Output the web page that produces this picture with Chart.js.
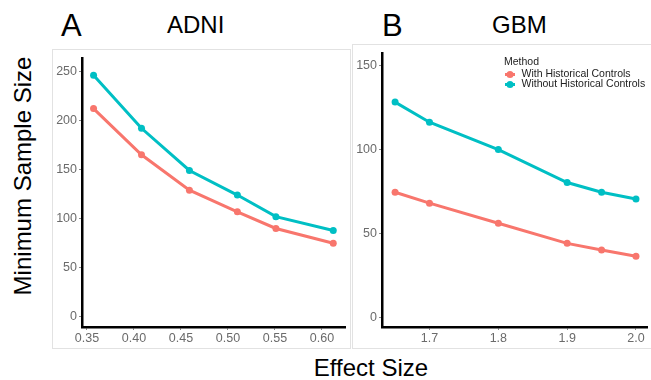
<!DOCTYPE html>
<html>
<head>
<meta charset="utf-8">
<script src="https://cdn.jsdelivr.net/npm/chart.js@4.4.1/dist/chart.umd.min.js"></script>
<style>
  body { margin: 0; background: #fff; font-family: "Liberation Sans", Arial, sans-serif; }
  #page { position: relative; width: 651px; height: 380px; overflow: hidden; }
  .txt { position: absolute; color: #000; white-space: nowrap; }
  .frame { position: absolute; border: 1px solid #e2e2e2; box-sizing: border-box; }
  canvas { position: absolute; }
</style>
</head>
<body>
<div id="page">
  <div class="frame" style="left:52px;top:49px;width:299px;height:300px;"></div>
  <div class="frame" style="left:352px;top:44px;width:302px;height:305px;"></div>

  <canvas id="chartA" width="298" height="299" style="left:52px;top:49px;"></canvas>
  <canvas id="chartB" width="299" height="304" style="left:352px;top:44px;"></canvas>

  <div class="txt" style="left:61px;top:10px;font-size:31px;line-height:31px;">A</div>
  <div class="txt" style="left:167px;top:13px;font-size:24px;line-height:24px;">ADNI</div>
  <div class="txt" style="left:382px;top:10px;font-size:31px;line-height:31px;">B</div>
  <div class="txt" style="left:492px;top:13px;font-size:24px;line-height:24px;">GBM</div>
  <div class="txt" style="left:0;top:356px;width:742px;text-align:center;font-size:24px;line-height:24px;">Effect Size</div>
  <div class="txt" style="left:-127px;top:164px;width:300px;height:24px;text-align:center;font-size:24px;line-height:24px;transform:rotate(-90deg);">Minimum Sample Size</div>
</div>

<script>
// ADNI panel
const effectA = [0.357, 0.408, 0.459, 0.510, 0.551, 0.612];
const withA = [212, 165, 129, 107, 90, 75];
const withoutA = [246, 192, 149, 124, 102, 88];
const xTicksA = [0.35, 0.40, 0.45, 0.50, 0.55, 0.60];
const yTicksA = [0, 50, 100, 150, 200, 250];

// GBM panel
const effectB = [1.65, 1.70, 1.80, 1.90, 1.95, 2.00];
const withB = [74.5, 68, 56, 44, 40, 36.3];
const withoutB = [128.3, 116.3, 100, 80.3, 74.5, 70.5];
const xTicksB = [1.7, 1.8, 1.9, 2.0];
const yTicksB = [0, 50, 100, 150];

const seriesNames = ['With Historical Controls', 'Without Historical Controls'];
const seriesColors = ['#F8766D', '#00BFC4'];

const FONT = '"Liberation Sans", Arial, sans-serif';
const TICK_COLOR = '#6b6b6b';

function makeSeries(xs, ys, i) {
    return {
        label: seriesNames[i],
        data: xs.map((x, k) => ({ x: x, y: ys[k] })),
        borderColor: seriesColors[i],
        backgroundColor: seriesColors[i],
        borderWidth: 3,
        pointRadius: 3.5,
        pointBorderWidth: 0,
        pointBackgroundColor: seriesColors[i],
        tension: 0
    };
}

function axis(range, tickValues, digits, fitSize, isX) {
    return {
        type: 'linear',
        min: range[0],
        max: range[1],
        afterBuildTicks: function (scale) {
            scale.ticks = tickValues.map(v => ({ value: v }));
        },
        afterFit: function (scale) {
            if (isX) scale.height = fitSize; else scale.width = fitSize;
        },
        grid: {
            drawOnChartArea: false,
            drawTicks: true,
            tickLength: 3,
            tickColor: '#888'
        },
        border: { color: '#000', width: 2.5 },
        ticks: {
            color: TICK_COLOR,
            font: { family: FONT, size: 12.5 },
            padding: isX ? 1 : 2,
            maxRotation: 0,
            autoSkip: false,
            callback: function (v) { return digits === null ? String(v) : Number(v).toFixed(digits); }
        }
    };
}

// legend drawn inside panel B, ggplot style
const methodLegend = {
    id: 'methodLegend',
    afterDraw: function (chart) {
        const ctx = chart.ctx;
        ctx.save();
        ctx.textBaseline = 'middle';
        ctx.textAlign = 'left';
        ctx.font = '10.5px ' + FONT;
        ctx.fillStyle = '#222';
        ctx.fillText('Method', 152, 18);
        chart.data.datasets.forEach(function (ds, i) {
            const y = 30.5 + i * 10;
            ctx.strokeStyle = ds.borderColor;
            ctx.lineWidth = 3;
            ctx.beginPath();
            ctx.moveTo(153, y);
            ctx.lineTo(163, y);
            ctx.stroke();
            ctx.fillStyle = ds.borderColor;
            ctx.beginPath();
            ctx.arc(158, y, 3.5, 0, Math.PI * 2);
            ctx.fill();
            ctx.fillStyle = '#222';
            ctx.fillText(ds.label, 169.5, y);
        });
        ctx.restore();
    }
};

function buildChart(id, xs, withVals, withoutVals, xRange, yRange, xTicks, yTicks, xDigits, padding, plugins) {
    return new Chart(document.getElementById(id), {
        type: 'line',
        data: {
            datasets: [makeSeries(xs, withVals, 0), makeSeries(xs, withoutVals, 1)]
        },
        options: {
            responsive: false,
            animation: false,
            layout: { padding: padding },
            plugins: {
                legend: { display: false },
                tooltip: { enabled: false }
            },
            scales: {
                x: axis(xRange, xTicks, xDigits, 21, true),
                y: axis(yRange, yTicks, null, 30, false)
            }
        },
        plugins: plugins
    });
}

buildChart('chartA', effectA, withA, withoutA, [0.3447, 0.6245], [-10.3, 263],
    xTicksA, yTicksA, 2, { top: 4, right: 5, left: 0, bottom: 0 }, []);

buildChart('chartB', effectB, withB, withoutB, [1.631, 2.016], [-5.9, 157.3],
    xTicksB, yTicksB, 1, { top: 6, right: 1, left: 0, bottom: 0 }, [methodLegend]);
</script>
</body>
</html>
